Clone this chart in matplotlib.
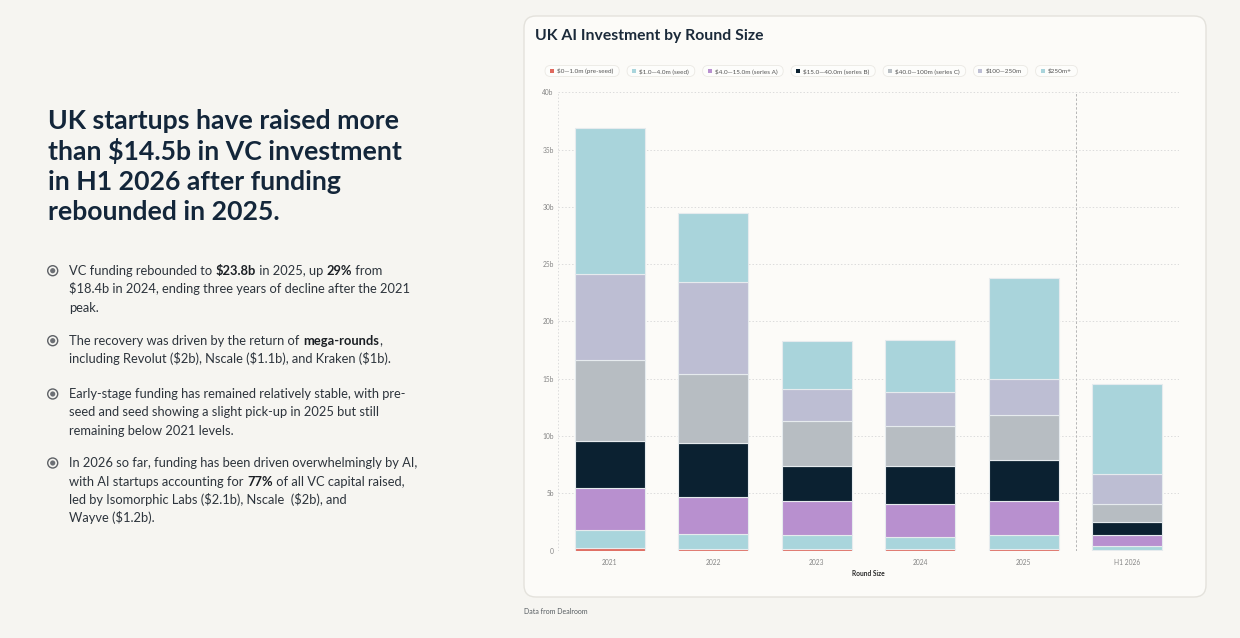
import matplotlib
matplotlib.use("Agg")
import matplotlib.pyplot as plt
from matplotlib.patches import FancyBboxPatch, Circle, Rectangle
from matplotlib.transforms import IdentityTransform
import numpy as np

# ---------------- data ----------------
years = ["2021", "2022", "2023", "2024", "2025", "H1 2026"]
series_names = ["$0—1.0m (pre-seed)", "$1.0—4.0m (seed)", "$4.0—15.0m (series A)",
                "$15.0—40.0m (series B)", "$40.0—100m (series C)", "$100—250m", "$250m+"]
series_colors = ["#e0695e", "#a9d5dc", "#b890cf", "#0b2131", "#b7bdc2", "#bdbed3", "#a9d4db"]
pre_seed = [0.20, 0.15, 0.12, 0.12, 0.14, 0.05]
seed = [1.63, 1.27, 1.19, 1.04, 1.20, 0.35]
series_a = [3.64, 3.23, 2.97, 2.88, 2.94, 0.94]
series_b = [4.10, 4.72, 3.14, 3.32, 3.61, 1.19]
series_c = [7.08, 6.03, 3.87, 3.52, 3.90, 1.54]
r100_250 = [7.45, 8.05, 2.77, 2.97, 3.20, 2.62]
r250_plus = [12.75, 6.05, 4.22, 4.55, 8.81, 7.86]
y_ticks = [0, 5, 10, 15, 20, 25, 30, 35, 40]
y_tick_labels = ["0", "5b", "10b", "15b", "20b", "25b", "30b", "35b", "40b"]

headline = ["UK startups have raised more", "than $14.5b in VC investment",
            "in H1 2026 after funding", "rebounded in 2025."]
bullets = [
    [[("VC funding rebounded to ", False), ("$23.8b", True), (" in 2025, up ", False), ("29%", True), (" from", False)],
     [("$18.4b in 2024, ending three years of decline after the 2021", False)],
     [("peak.", False)]],
    [[("The recovery was driven by the return of ", False), ("mega-rounds", True), (",", False)],
     [("including Revolut ($2b), Nscale ($1.1b), and Kraken ($1b).", False)]],
    [[("Early-stage funding has remained relatively stable, with pre-", False)],
     [("seed and seed showing a slight pick-up in 2025 but still", False)],
     [("remaining below 2021 levels.", False)]],
    [[("In 2026 so far, funding has been driven overwhelmingly by AI,", False)],
     [("with AI startups accounting for ", False), ("77%", True), (" of all VC capital raised,", False)],
     [("led by Isomorphic Labs ($2.1b), Nscale  ($2b), and", False)],
     [("Wayve ($1.2b).", False)]],
]
bullet_baselines = [[275, 293.3, 311.7], [345, 363.3], [398.3, 416.5, 434.7], [467.3, 485.6, 503.9, 522.2]]

W, H = 1240, 638
FONT = ["Lato", "DejaVu Sans"]
plt.rcParams["font.family"] = FONT

fig = plt.figure(figsize=(W / 100, H / 100), dpi=100)
fig.patch.set_facecolor("#f6f5f1")
renderer = fig.canvas.get_renderer()


def fx(x):
    return x / W


def fy(y):
    return 1 - y / H


# card
card = FancyBboxPatch((524, H - 597), 682, 581, boxstyle="round,pad=0,rounding_size=12",
                      transform=IdentityTransform(), facecolor="#fcfbf8", edgecolor="#e4e2dc",
                      linewidth=1.0, zorder=0)
fig.add_artist(card)

# axes
ax = fig.add_axes([fx(558), fy(550.5), (1179 - 558) / W, (550.5 - 92.3) / H])
ax.set_facecolor("none")
series = [pre_seed, seed, series_a, series_b, series_c, r100_250, r250_plus]
xpos = np.arange(len(years))
bottom = np.zeros(len(years))
for vals, col, name in zip(series, series_colors, series_names):
    ax.bar(xpos, vals, bottom=bottom, width=0.68, color=col, edgecolor="#e6ebee",
           linewidth=0.8, label=name, zorder=3)
    bottom += np.array(vals)

ax.set_xlim(-0.5, 5.5)
ax.set_ylim(0, 40)
for s in ax.spines.values():
    s.set_visible(False)
for yv in y_ticks:
    ax.axhline(yv, color="#dcdcdc", linestyle=(0, (1.5, 2)), linewidth=0.7, zorder=1)
for xv in [-0.5, 5.5]:
    ax.axvline(xv, color="#dcdcdc", linestyle=(0, (1.5, 2)), linewidth=0.7, zorder=1)
ax.axvline(4.5, color="#b5b5b5", linestyle=(0, (2.5, 2)), linewidth=0.7, zorder=2)
ax.set_yticks(y_ticks)
ax.set_yticklabels(y_tick_labels)
ax.set_xticks(xpos)
ax.set_xticklabels(years)
ax.tick_params(axis="both", length=0, labelsize=4.8, labelcolor="#858585")
ax.tick_params(axis="y", pad=3)
ax.tick_params(axis="x", pad=6)
ax.set_xlabel("Round Size", fontsize=4.8, fontweight="bold", color="#2a2a2a", labelpad=3)

# chart title
fig.text(fx(535), fy(36), "UK AI Investment by Round Size", fontsize=11.3, fontweight="bold",
         color="#1b2a3a", va="center", ha="left")

# legend pills
lx = 545
ly = 71
for name, col in zip(series_names, series_colors):
    t = fig.text(fx(lx + 12), fy(ly), name, fontsize=4.6, color="#555555", va="center", ha="left",
                 zorder=5, parse_math=False)
    bb = t.get_window_extent(renderer)
    pill_w = bb.width + 18
    pill = FancyBboxPatch((lx, H - ly - 5.5), pill_w, 11, boxstyle="round,pad=0,rounding_size=5.5",
                          transform=IdentityTransform(), facecolor="#fdfdfb", edgecolor="#ebe9e4",
                          linewidth=0.6, zorder=4)
    fig.add_artist(pill)
    sq = Rectangle((lx + 5, H - ly - 2), 4, 4, transform=IdentityTransform(), facecolor=col,
                   edgecolor="none", zorder=5)
    fig.add_artist(sq)
    lx += pill_w + 7.8

# footnote
fig.text(fx(524), fy(611), "Data from Dealroom", fontsize=5, color="#555b60", va="center", ha="left")

# headline
for i, line in enumerate(headline):
    fig.text(fx(48), fy(129.3 + i * 30.3), line, fontsize=19.2, fontweight="bold",
             color="#13263a", va="baseline", ha="left", parse_math=False)


def rich(x, y, parts, size=9.25, color="#2d343c"):
    for txt, bold in parts:
        t = fig.text(fx(x), fy(y), txt, fontsize=size, fontweight="bold" if bold else "normal",
                     color="#1b1f24" if bold else color, va="baseline", ha="left", parse_math=False)
        x += t.get_window_extent(renderer).width


for paras, bases in zip(bullets, bullet_baselines):
    cy = bases[0] - 4.3
    fig.add_artist(Circle((52.7, H - cy), 5.0, transform=IdentityTransform(), facecolor="none",
                          edgecolor="#5e6166", linewidth=1.0))
    fig.add_artist(Circle((52.7, H - cy), 2.6, transform=IdentityTransform(), facecolor="#6d7075",
                          edgecolor="none"))
    for parts, b in zip(paras, bases):
        rich(69.3, b, parts)

fig.savefig("out.png", dpi=100, facecolor=fig.get_facecolor())
